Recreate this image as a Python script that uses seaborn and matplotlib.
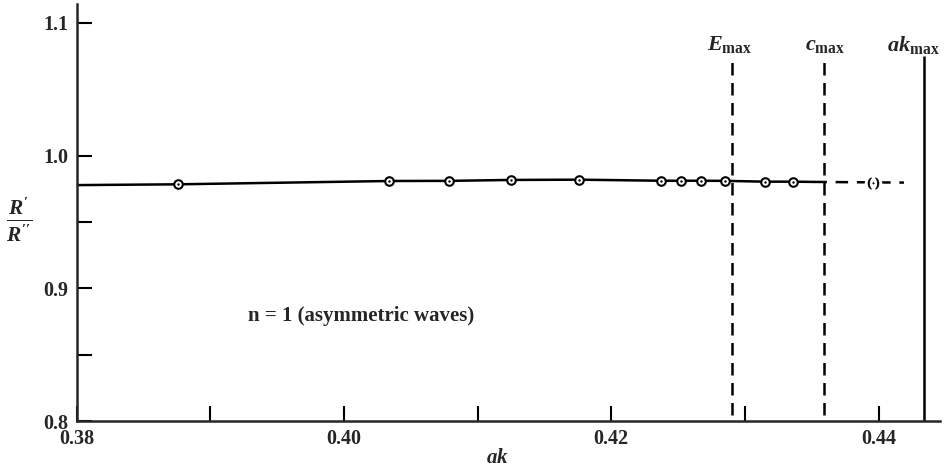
import numpy as np
import pandas as pd
import seaborn as sns
import matplotlib
import matplotlib.pyplot as plt

# Values
ak_pts = [0.3876, 0.4034, 0.4079, 0.4125, 0.4176, 0.4237, 0.4252, 0.4267, 0.4285, 0.4315, 0.4336]
ratio_pts = [0.9784, 0.9809, 0.9810, 0.9817, 0.9819, 0.9811, 0.9811, 0.9811, 0.9810, 0.9804, 0.9804]

# solid fitted curve (extends to the left edge) and dashed extrapolation
curve_ak = [0.3800] + ak_pts + [0.4352]
curve_ratio = [0.9778] + ratio_pts + [0.9802]
extrap_ak = [0.4352, 0.4419]
extrap_ratio = [0.9802, 0.9797]
extrap_pt_ak = [0.4396]
extrap_pt_ratio = [0.9797]

# limits marked by vertical lines
emax_ak = 0.4290
cmax_ak = 0.4359
akmax_ak = 0.4434
limit_names = [r"$E_{\mathrm{max}}$", r"$c_{\mathrm{max}}$", r"$ak_{\mathrm{max}}$"]

x_major = [0.38, 0.40, 0.42, 0.44]
x_minor = [0.39, 0.41, 0.43]
y_major = [0.8, 0.9, 1.0, 1.1]
y_minor = [0.85, 0.95]

sns.set_style("ticks")
plt.rcParams["font.family"] = ["Liberation Serif", "DejaVu Serif"]
plt.rcParams["font.weight"] = "bold"
plt.rcParams["mathtext.fontset"] = "custom"
plt.rcParams["mathtext.rm"] = "Liberation Serif:bold"
plt.rcParams["mathtext.it"] = "Liberation Serif:bold:italic"
plt.rcParams["mathtext.bf"] = "Liberation Serif:bold"

fig = plt.figure(figsize=(9.48, 4.73), dpi=100)
ax = fig.add_axes([0.0807, 0.1099, 0.9109, 0.8808])

df_curve = pd.DataFrame({"ak": curve_ak, "ratio": curve_ratio})
df_pts = pd.DataFrame({"ak": ak_pts, "ratio": ratio_pts})
df_ext = pd.DataFrame({"ak": extrap_ak, "ratio": extrap_ratio})

sns.lineplot(data=df_curve, x="ak", y="ratio", color="black", linewidth=1.8, ax=ax, sort=False)
sns.lineplot(data=df_ext, x="ak", y="ratio", color="black", linewidth=1.8, ax=ax,
             linestyle=(0, (5, 3.5)), sort=False)

# vertical limit lines
ax.vlines(emax_ak, 0.8045, 1.075, colors="black", linewidth=1.8, linestyles=(0, (5, 3)))
ax.vlines(cmax_ak, 0.8045, 1.075, colors="black", linewidth=1.8, linestyles=(0, (5, 3)))
ax.vlines(akmax_ak, 0.80, 1.075, colors="black", linewidth=1.8)

# open circles with a centre dot
sns.scatterplot(data=df_pts, x="ak", y="ratio", marker="o", s=38, facecolor="white",
                edgecolor="black", linewidth=1.5, ax=ax, zorder=5)
sns.scatterplot(data=df_pts, x="ak", y="ratio", marker="o", s=3, color="black",
                linewidth=0, ax=ax, zorder=6)
# extrapolated point "(·)"
ax.scatter(extrap_pt_ak, extrap_pt_ratio, marker="o", s=160, color="white", zorder=5, linewidth=0)
ax.scatter(extrap_pt_ak, extrap_pt_ratio, marker=r"$(\cdot)$", s=70, color="black", zorder=6, linewidth=0.4)

ax.text(emax_ak - 0.0001, 1.0834, limit_names[0], ha="center", va="center", fontsize=16)
ax.text(cmax_ak + 0.0001, 1.0834, limit_names[1], ha="center", va="center", fontsize=16)
ax.text(1.0, 1.0834, limit_names[2], ha="right", va="center", fontsize=16,
        transform=ax.get_yaxis_transform())

ax.text(0.3928, 0.879, "n = 1 (asymmetric waves)", fontsize=15, fontweight="bold",
        ha="left", va="center")

ax.set_xlim(0.38, 0.4446)
ax.set_ylim(0.8, 1.114)
ax.set_xticks(x_major)
ax.set_xticklabels(["0.38", "0.40", "0.42", "0.44"])
ax.set_xticks(x_minor, minor=True)
ax.set_yticks(y_major)
ax.set_yticklabels(["0.8", "0.9", "1.0", "1.1"])
ax.set_yticks(y_minor, minor=True)
ax.tick_params(axis="both", which="both", direction="in", length=11, width=1.5, color="black")
ax.tick_params(axis="x", labelsize=14.5, pad=6)
ax.tick_params(axis="y", labelsize=14.5, pad=6)
for lab in ax.get_xticklabels() + ax.get_yticklabels():
    lab.set_fontweight("bold")

sns.despine(ax=ax)
ax.spines["left"].set_linewidth(1.8)
ax.spines["bottom"].set_linewidth(1.8)

ax.set_xlabel(r"$ak$", fontsize=15, labelpad=1)
ax.xaxis.set_label_coords(0.487, -0.068)
ax.set_ylabel("")
fig.text(19 / 948, 1 - 220 / 473, r"$\frac{R'}{R''}$", fontsize=22, ha="center", va="center")

fig.savefig("out.png", dpi=100)
